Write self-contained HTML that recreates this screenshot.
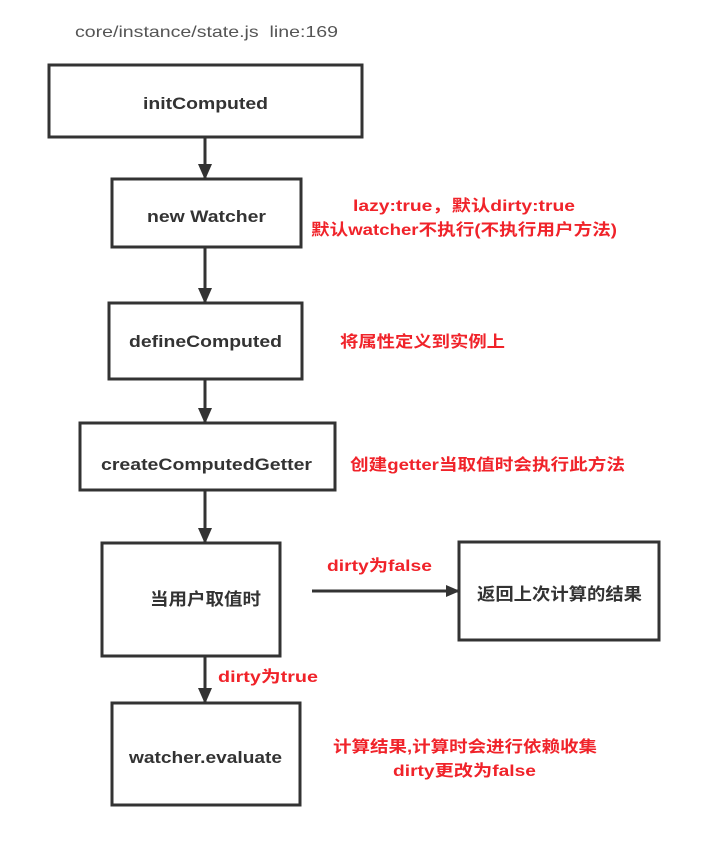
<!DOCTYPE html>
<html><head><meta charset="utf-8"><style>
body{margin:0;background:#fff;}
svg text{font-family:"Liberation Sans","Noto Sans CJK SC",sans-serif;}
.b{fill:#fff;stroke:#333;stroke-width:3}
.t{font-size:17px;font-weight:bold;fill:#333;}
.r{font-size:16px;font-weight:bold;fill:#f0232a;}
</style></head><body>
<svg width="721" height="837" viewBox="0 0 721 837" xmlns="http://www.w3.org/2000/svg">
<defs><marker id="a" markerWidth="14" markerHeight="14" refX="13" refY="7" orient="auto" markerUnits="userSpaceOnUse"><path d="M0,1 L14,7 L0,13 Z" fill="#333"/></marker>
<marker id="v" markerWidth="14" markerHeight="16" refX="7" refY="15" orient="0" markerUnits="userSpaceOnUse"><path d="M0,0 L14,0 L7,16 Z" fill="#333"/></marker></defs>
<text x="75" y="37" font-size="16" fill="#555" textLength="263" lengthAdjust="spacingAndGlyphs">core/instance/state.js&#160;&#160;line:169</text>
<rect class="b" x="49" y="65" width="313" height="72"/>
<text class="t" x="143" y="109" textLength="125" lengthAdjust="spacingAndGlyphs">initComputed</text>
<rect class="b" x="112" y="179" width="189" height="68"/>
<text class="t" x="147" y="222" textLength="119" lengthAdjust="spacingAndGlyphs">new Watcher</text>
<rect class="b" x="109" y="303" width="193" height="76"/>
<text class="t" x="129" y="347" textLength="153" lengthAdjust="spacingAndGlyphs">defineComputed</text>
<rect class="b" x="80" y="423" width="255" height="67"/>
<text class="t" x="101" y="470" textLength="211" lengthAdjust="spacingAndGlyphs">createComputedGetter</text>
<rect class="b" x="102" y="543" width="178" height="113"/>
<text class="t" x="150" y="605" font-weight="normal" textLength="111" lengthAdjust="spacingAndGlyphs">当用户取值时</text>
<rect class="b" x="459" y="542" width="200" height="98"/>
<text class="t" x="477" y="600" font-weight="normal" textLength="165" lengthAdjust="spacingAndGlyphs">返回上次计算的结果</text>
<rect class="b" x="112" y="703" width="188" height="102"/>
<text class="t" x="129" y="763" textLength="153" lengthAdjust="spacingAndGlyphs">watcher.evaluate</text>
<g stroke="#333" stroke-width="3">
<line x1="205" y1="137" x2="205" y2="179" marker-end="url(#v)"/>
<line x1="205" y1="247" x2="205" y2="303" marker-end="url(#v)"/>
<line x1="205" y1="379" x2="205" y2="423" marker-end="url(#v)"/>
<line x1="205" y1="490" x2="205" y2="543" marker-end="url(#v)"/>
<line x1="205" y1="656" x2="205" y2="703" marker-end="url(#v)"/>
<line x1="312" y1="591" x2="459" y2="591" marker-end="url(#a)"/>
</g>
<text class="r" x="353" y="211" textLength="222" lengthAdjust="spacingAndGlyphs">lazy:true，默认dirty:true</text>
<text class="r" x="311" y="235" textLength="306" lengthAdjust="spacingAndGlyphs">默认watcher不执行(不执行用户方法)</text>
<text class="r" x="340" y="347" textLength="165" lengthAdjust="spacingAndGlyphs">将属性定义到实例上</text>
<text class="r" x="350" y="470" textLength="275" lengthAdjust="spacingAndGlyphs">创建getter当取值时会执行此方法</text>
<text class="r" x="327" y="571" textLength="105" lengthAdjust="spacingAndGlyphs">dirty为false</text>
<text class="r" x="218" y="682" textLength="100" lengthAdjust="spacingAndGlyphs">dirty为true</text>
<text class="r" x="333" y="752" textLength="264" lengthAdjust="spacingAndGlyphs">计算结果,计算时会进行依赖收集</text>
<text class="r" x="393" y="776" textLength="143" lengthAdjust="spacingAndGlyphs">dirty更改为false</text>
</svg>
</body></html>
